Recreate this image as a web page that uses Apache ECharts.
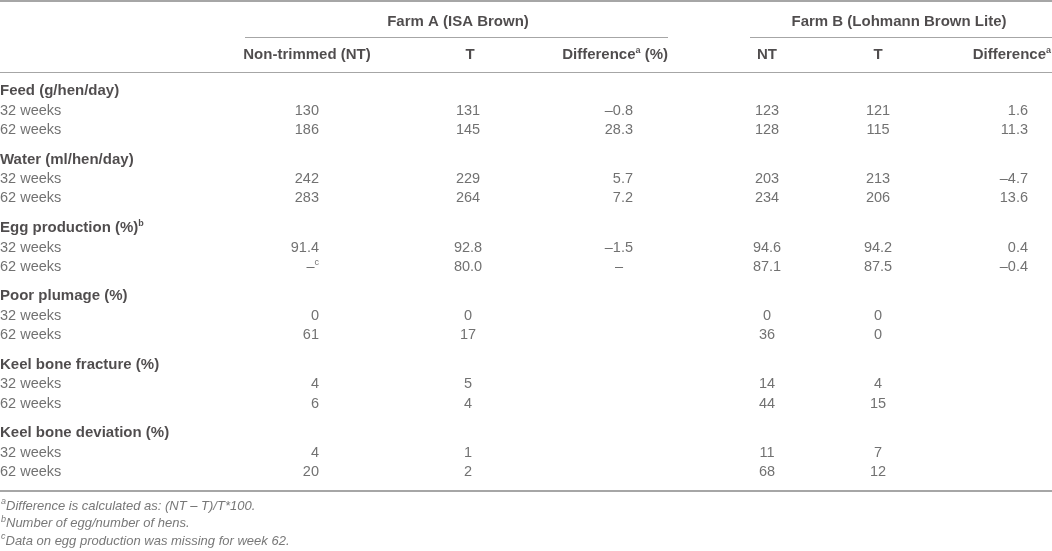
<!DOCTYPE html>
<html>
<head>
<meta charset="utf-8">
<script src="https://cdn.jsdelivr.net/npm/echarts@6/dist/echarts.min.js"></script>
<style>
html, body { margin: 0; padding: 0; background: #fff; }
#main { width: 1052px; height: 551px; }
</style>
</head>
<body>
<div id="main"></div>
<script>
// table content
var farms = ['Farm A (ISA Brown)', 'Farm B (Lohmann Brown Lite)'];
var colHeads = ['Non-trimmed (NT)', 'T', 'Difference{sup|a} (%)', 'NT', 'T', 'Difference{sup|a}'];
var groups = ['Feed (g/hen/day)', 'Water (ml/hen/day)', 'Egg production (%){sup|b}',
  'Poor plumage (%)', 'Keel bone fracture (%)', 'Keel bone deviation (%)'];
var weeks = ['32 weeks', '62 weeks'];
var decimals = [0, 0, 1, 0, 0, 0];
// two values per group (32 weeks, 62 weeks); null = missing
var farmA_NT = [130, 186, 242, 283, 91.4, null, 0, 61, 4, 6, 4, 20];
var farmA_T = [131, 145, 229, 264, 92.8, 80.0, 0, 17, 5, 4, 1, 2];
var farmA_Diff = [-0.8, 28.3, 5.7, 7.2, -1.5, null];
var farmB_NT = [123, 128, 203, 234, 94.6, 87.1, 0, 36, 14, 44, 11, 68];
var farmB_T = [121, 115, 213, 206, 94.2, 87.5, 0, 0, 4, 15, 7, 12];
var farmB_Diff = [1.6, 11.3, -4.7, 13.6, 0.4, -0.4];
var notes = [
  ['a', 'Difference is calculated as: (NT \u2013 T)/T*100.'],
  ['b', 'Number of egg/number of hens.'],
  ['c', 'Data on egg production was missing for week 62.']
];

// layout (axis units = pixels of the page)
var W = 1052, H = 551;
var bodyTop = 91, groupStep = 68.4, rowSteps = [0, 19.8, 39];
var columns = [
  { vals: farmA_NT, x: 319, align: 'right', isDiff: false },
  { vals: farmA_T, x: 468, align: 'center', isDiff: false },
  { vals: farmA_Diff, x: 633, align: 'right', isDiff: true },
  { vals: farmB_NT, x: 767, align: 'center', isDiff: false },
  { vals: farmB_T, x: 878, align: 'center', isDiff: false },
  { vals: farmB_Diff, x: 1028, align: 'right', isDiff: true }
];
var headX = [[307, 'center'], [470, 'center'], [668, 'right'], [767, 'center'], [878, 'center'], [1051, 'right']];
var farmX = [458, 899];

var FONT = '"Liberation Sans", Helvetica, Arial, sans-serif';
var DARK = '#231f20', BODY = '#4d4d4d', RULE = '#a6a6a6';
var rich = {
  sup: { fontSize: 9, lineHeight: 10, verticalAlign: 'top', fontFamily: FONT },
  pad: { padding: [0, 10, 0, 0] }
};

function rowY(g, r) { return bodyTop + g * groupStep + rowSteps[r]; }

function fmt(v, g, isDiff) {
  if (v === undefined) return '';
  if (v === null) return isDiff ? '{pad|\u2013}' : '\u2013{sup|c}';
  var s = Math.abs(v).toFixed(isDiff ? 1 : decimals[g]);
  return (v < 0 ? '\u2013' : '') + s;
}

function textSeries(name, items, style) {
  return {
    type: 'scatter', name: name, symbolSize: 0, silent: true,
    data: items.map(function (it) {
      return { value: [it.x, it.y], text: it.text, label: { align: it.align || 'left' } };
    }),
    label: Object.assign({
      show: true, position: 'inside', verticalAlign: 'middle',
      fontFamily: FONT, fontSize: 14.5, lineHeight: 18, color: BODY,
      formatter: function (p) { return p.data.text; },
      rich: rich
    }, style)
  };
}

var groupItems = [], weekItems = [], cellItems = [];
groups.forEach(function (name, g) {
  groupItems.push({ x: 0, y: rowY(g, 0), text: name });
  weeks.forEach(function (w, r) {
    weekItems.push({ x: 0, y: rowY(g, r + 1), text: w });
    columns.forEach(function (c) {
      var t = fmt(c.vals[g * 2 + r], g, c.isDiff);
      if (t) cellItems.push({ x: c.x, y: rowY(g, r + 1), text: t, align: c.align });
    });
  });
});

var farmItems = farms.map(function (f, i) { return { x: farmX[i], y: 22, text: f, align: 'center' }; });
var headItems = colHeads.map(function (h, i) { return { x: headX[i][0], y: 55, text: h, align: headX[i][1] }; });
var noteItems = notes.map(function (n, i) {
  return { x: 1, y: 506 + i * 17.5, text: '{sup|' + n[0] + '}' + n[1] };
});

function rule(x0, x1, y, w) {
  return [{ coord: [x0, y], lineStyle: { width: w || 1.2 } }, { coord: [x1, y] }];
}

var bold = { fontWeight: 'bold', fontSize: 15, color: DARK };
var series = [
  textSeries('groups', groupItems, bold),
  textSeries('weeks', weekItems, {}),
  textSeries('cells', cellItems, {}),
  textSeries('farms', farmItems, bold),
  textSeries('heads', headItems, bold),
  textSeries('notes', noteItems, { fontStyle: 'italic', fontSize: 13, color: '#555' })
];
series[0].markLine = {
  silent: true, symbol: ['none', 'none'], label: { show: false }, animation: false,
  lineStyle: { color: RULE, type: 'solid', width: 1.2 },
  data: [
    rule(0, W, 1, 2),
    rule(245, 668, 37),
    rule(750, W, 37),
    rule(0, W, 72),
    rule(0, W, 491, 2)
  ]
};

var chart = echarts.init(document.getElementById('main'));
chart.setOption({
  animation: false,
  backgroundColor: '#fff',
  grid: { left: 0, right: 0, top: 0, bottom: 0 },
  xAxis: { type: 'value', min: 0, max: W, show: false },
  yAxis: { type: 'value', min: 0, max: H, inverse: true, show: false },
  series: series
});
</script>
</body>
</html>
